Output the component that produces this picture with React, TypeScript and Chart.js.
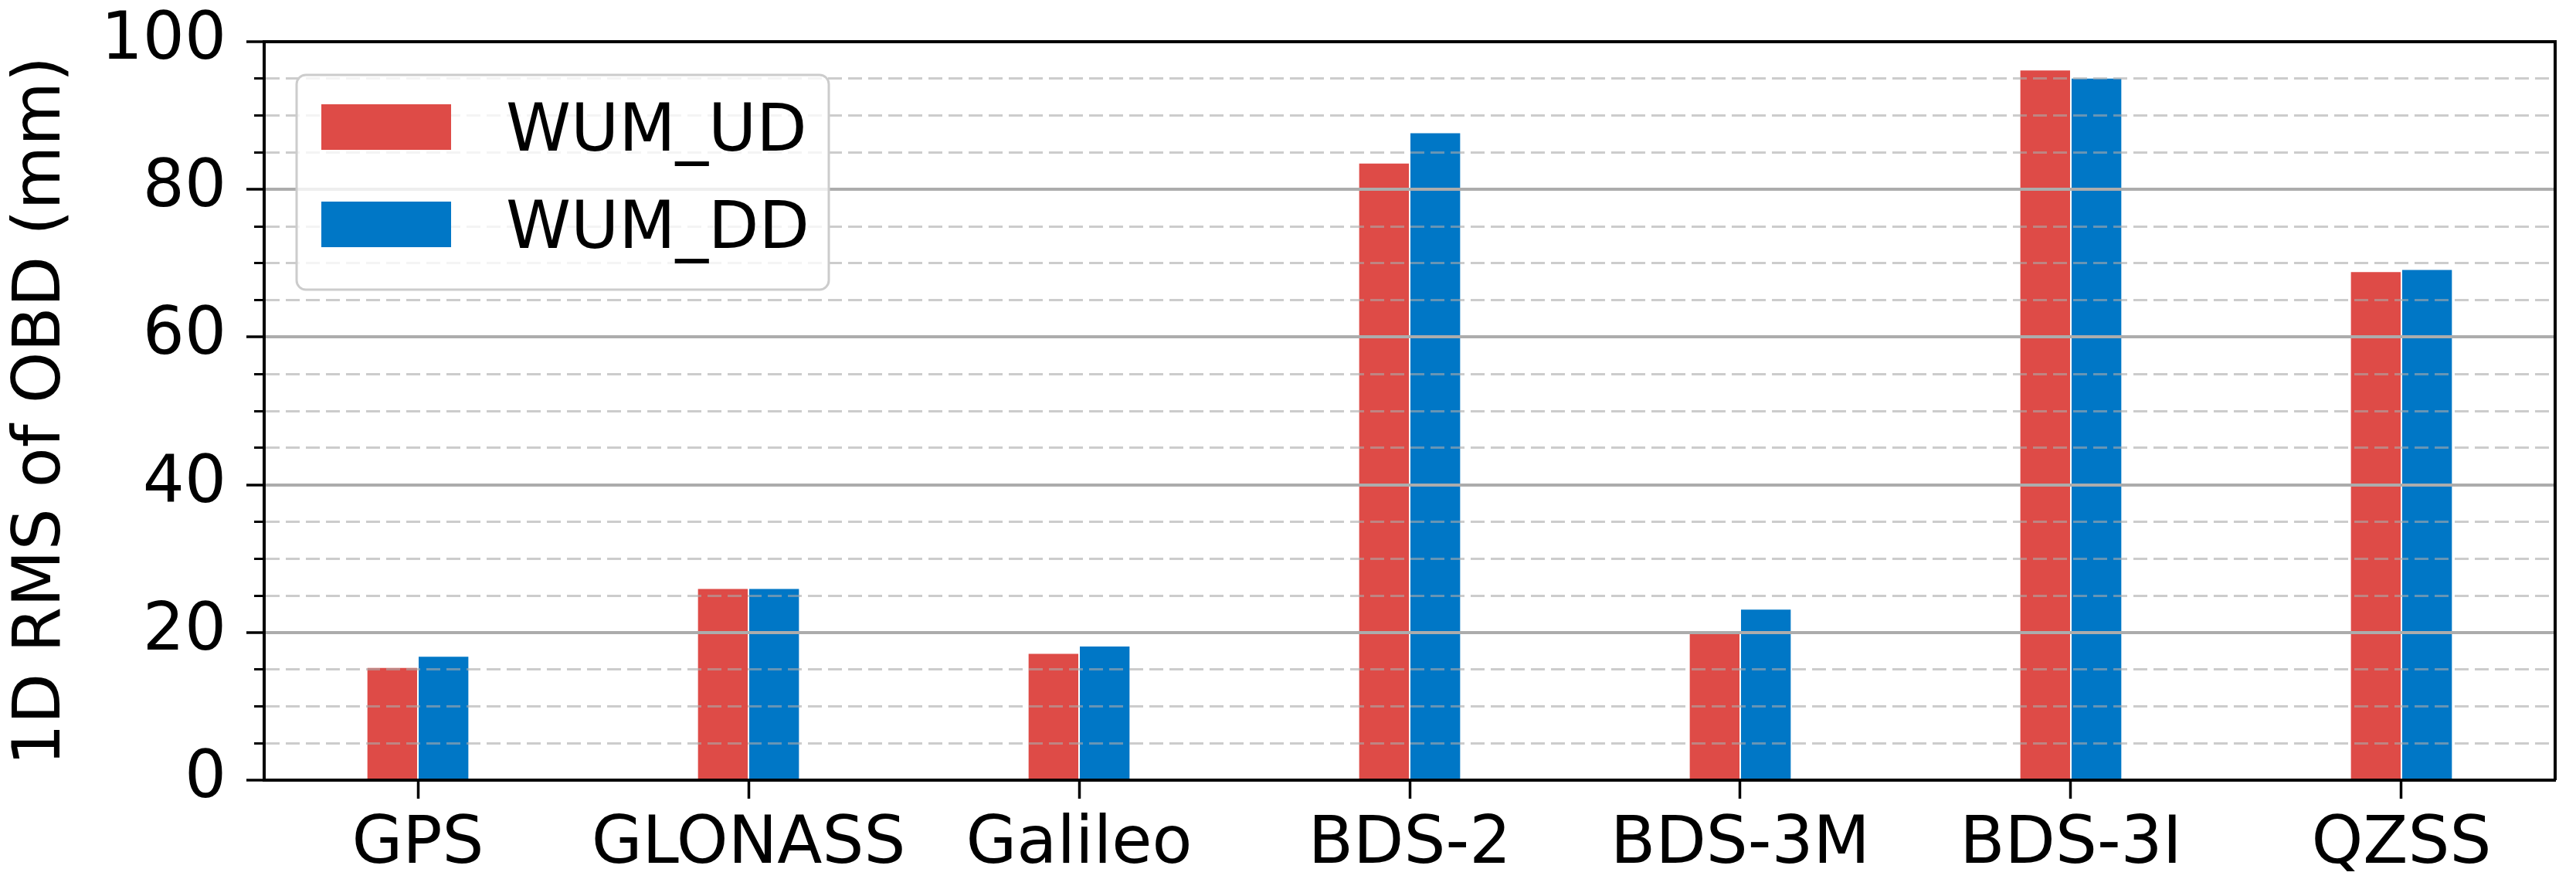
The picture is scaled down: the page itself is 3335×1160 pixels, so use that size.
import React, { useEffect, useRef } from 'react';
import { Chart, registerables } from 'chart.js';

Chart.register(...registerables);

const categories = ['GPS', 'GLONASS', 'Galileo', 'BDS-2', 'BDS-3M', 'BDS-3I', 'QZSS'];
const wumUD = [15.2, 25.9, 17.1, 83.5, 19.8, 96.1, 68.8];
const wumDD = [16.7, 25.9, 18.1, 87.6, 23.1, 95.0, 69.1];
const seriesLabels = ['WUM_UD', 'WUM_DD'];
const seriesColors = ['#DE4B47', '#0077C6'];
const yTitle = '1D RMS of OBD (mm)';
const yMin = 0;
const yMax = 100;
const yMajorStep = 20;
const yMinorStep = 5;

const FONT = 'DejaVu Sans';
const FONT_SIZE = 85;

const frameAndLegend = {
  id: 'frameAndLegend',
  afterDraw(chart: any) {
    const { ctx, chartArea } = chart;
    ctx.save();
    // top and right spines
    ctx.strokeStyle = '#000';
    ctx.lineWidth = 4;
    ctx.beginPath();
    ctx.moveTo(chartArea.left, chartArea.top);
    ctx.lineTo(chartArea.right, chartArea.top);
    ctx.lineTo(chartArea.right, chartArea.bottom);
    ctx.stroke();

    // legend box
    const x0 = chartArea.left + 42;
    const y0 = chartArea.top + 43;
    const w = 689;
    const h = 278;
    ctx.beginPath();
    ctx.roundRect(x0, y0, w, h, 12);
    ctx.fillStyle = 'rgba(255,255,255,0.8)';
    ctx.fill();
    ctx.lineWidth = 3;
    ctx.strokeStyle = '#cccccc';
    ctx.stroke();
    chart.data.datasets.forEach((ds: any, i: number) => {
      const py = chartArea.top + 81 + i * 126;
      ctx.fillStyle = ds.backgroundColor;
      ctx.fillRect(x0 + 32, py, 168, 59);
      ctx.fillStyle = '#000';
      ctx.font = `${FONT_SIZE}px "${FONT}"`;
      ctx.textBaseline = 'alphabetic';
      ctx.textAlign = 'left';
      ctx.fillText(ds.label, x0 + 271, py + 60);
    });
    ctx.restore();
  },
};

export default function App() {
  const ref = useRef<HTMLCanvasElement | null>(null);

  useEffect(() => {
    if (!ref.current) return;
    const isMajor = (ctx: any) => ctx.tick && Math.abs(ctx.tick.value % yMajorStep) < 1e-6;
    const chart = new Chart(ref.current, {
      type: 'bar',
      data: {
        datasets: [wumUD, wumDD].map((vals, k) => ({
          label: seriesLabels[k],
          data: vals.map((v, i) => ({ x: i, y: v })),
          backgroundColor: seriesColors[k],
          borderWidth: 0,
          categoryPercentage: 0.31,
          barPercentage: 0.97,
        })),
      },
      options: {
        animation: false,
        responsive: false,
        devicePixelRatio: 1,
        layout: { padding: { top: 54, right: 27, left: 0, bottom: 0 } },
        plugins: { legend: { display: false }, tooltip: { enabled: false } },
        scales: {
          x: {
            type: 'linear',
            min: -0.465,
            max: categories.length - 1 + 0.465,
            offset: false,
            afterFit: (s: any) => { s.height = 150; s.paddingLeft = 0; s.paddingRight = 0; },
            afterBuildTicks: (s: any) => {
              s.ticks = s.ticks.filter((t: any) => Number.isInteger(t.value) && t.value >= 0 && t.value < categories.length);
            },
            ticks: {
              stepSize: 1,
              includeBounds: false,
              autoSkip: false,
              maxRotation: 0,
              minRotation: 0,
              padding: 10,
              color: '#000',
              font: { family: FONT, size: FONT_SIZE },
              callback: (v: any) => categories[v] ?? '',
            },
            grid: {
              display: true,
              offset: false,
              drawOnChartArea: false,
              drawTicks: true,
              tickLength: 24,
              tickWidth: 3.5,
              tickColor: '#000',
            },
            border: { display: true, color: '#000', width: 4, z: 2 },
          },
          y: {
            type: 'linear',
            min: yMin,
            max: yMax,
            afterFit: (s: any) => { s.width = 342; s.paddingTop = 0; s.paddingBottom = 0; },
            ticks: {
              stepSize: yMinorStep,
              autoSkip: false,
              padding: 26,
              color: '#000',
              font: { family: FONT, size: FONT_SIZE },
              callback: (v: any) => (Math.abs(v % yMajorStep) < 1e-6 ? String(v) : ''),
            },
            grid: {
              z: 1,
              drawTicks: true,
              tickLength: 23,
              color: (ctx: any) => (isMajor(ctx) ? 'rgba(172,172,172,1)' : 'rgba(170,170,170,0.6)'),
              lineWidth: (ctx: any) => (isMajor(ctx) ? 4 : 3),
              tickColor: '#000',
              tickWidth: (ctx: any) => (isMajor(ctx) ? 3.5 : 2.8),
              tickBorderDash: (ctx: any) => (isMajor(ctx) ? [] : [0, 10, 13, 100]),
            },
            border: {
              display: true,
              color: '#000',
              width: 4,
              z: 2,
              dash: (ctx: any) => (ctx.tick && !isMajor(ctx) ? [18, 8] : []),
            },
            title: {
              display: true,
              text: yTitle,
              color: '#000',
              font: { family: FONT, size: FONT_SIZE },
              padding: { top: 4, bottom: 0 },
            },
          },
        },
      },
      plugins: [frameAndLegend],
    } as any);
    return () => chart.destroy();
  }, []);

  return (
    <div style={{ position: 'absolute', left: 0, top: 0, width: 3335, height: 1160, background: '#fff' }}>
      <canvas ref={ref} width={3335} height={1160} style={{ display: 'block', width: 3335, height: 1160 }} />
    </div>
  );
}
